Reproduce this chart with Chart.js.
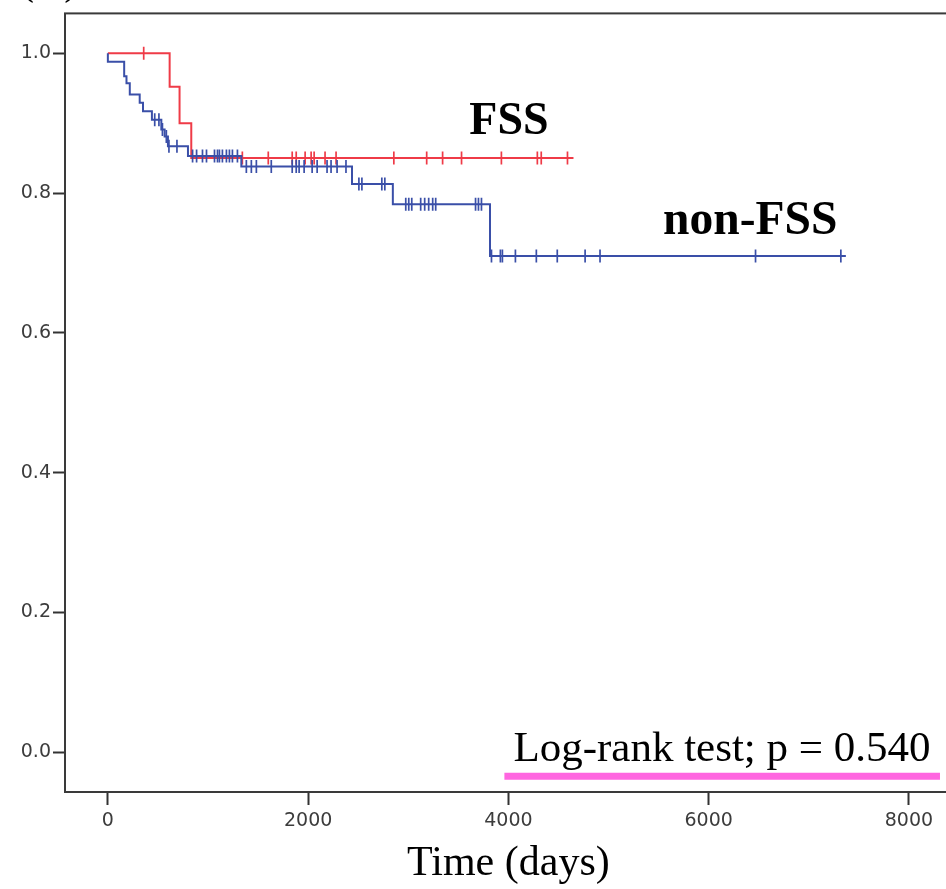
<!DOCTYPE html>
<html>
<head>
<meta charset="utf-8">
<script src="https://cdn.jsdelivr.net/npm/chart.js@4/dist/chart.umd.min.js"></script>
<style>
  html, body { margin: 0; padding: 0; background: #ffffff; overflow: hidden; }
  #wrap { width: 946px; height: 889px; overflow: hidden; position: relative; }
  canvas { display: block; }
</style>
</head>
<body>
<div id="wrap"><canvas id="c" width="960" height="889"></canvas></div>
<script>
// ---- data ----
const xTickValues = [0, 2000, 4000, 6000, 8000];
const yTickValues = [0.0, 0.2, 0.4, 0.6, 0.8, 1.0];

// FSS (red): Kaplan-Meier step points (time in days, cumulative survival)
const fssStepTimes = [0, 617, 716, 833, 4650];
const fssStepSurv  = [1.0, 0.952, 0.900, 0.850, 0.850];
const fssCensorTimes = [358, 1343, 1602, 1841, 1881, 1970, 2030, 2060, 2169, 2279,
                        2856, 3184, 3343, 3532, 3930, 4289, 4328, 4590];

// non-FSS (blue)
const nonFssStepTimes = [0, 0, 163, 186, 219, 318, 351, 440, 534, 567, 600, 800,
                         1333, 2438, 2846, 3816, 7370];
const nonFssStepSurv  = [1.0, 0.988, 0.967, 0.957, 0.941, 0.929, 0.917, 0.905, 0.891,
                         0.881, 0.867, 0.853, 0.838, 0.813, 0.784, 0.710, 0.710];
const nonFssCensorTimes = [468, 510, 545, 584, 610, 690, 846, 886, 945, 985, 1065, 1095,
                           1114, 1144, 1184, 1214, 1244, 1294, 1383, 1433, 1483, 1632,
                           1841, 1881, 1910, 1960, 2040, 2090, 2189, 2229, 2289, 2378,
                           2507, 2537, 2736, 2766, 2975, 3005, 3035, 3124, 3164, 3204,
                           3244, 3274, 3672, 3701, 3731, 3831, 3920, 3940, 4070, 4279,
                           4488, 4766, 4915, 6468, 7320];

const groupLabels = ['FSS', 'non-FSS'];
const testLabel = 'Log-rank test; p = 0.540';
const xTitle = 'Time (days)';
const panelLabel = '(A)';

// ---- helpers ----
function stepPoints(times, surv) {
  return times.map((t, i) => ({ x: t, y: surv[i] }));
}
function survAt(times, surv, t) {
  let s = surv[0];
  for (let i = 0; i < times.length; i++) { if (times[i] <= t) s = surv[i]; }
  return s;
}
function censorPoints(times, surv, ctimes) {
  return ctimes.map(t => ({ x: t, y: survAt(times, surv, t) }));
}

const RED = '#ef3b47';
const BLUE = '#3a4fa8';

const framePlugin = {
  id: 'frame',
  afterDraw(chart) {
    const { ctx, chartArea: a, scales } = chart;
    ctx.save();
    // frame
    ctx.strokeStyle = '#3a3a3a';
    ctx.lineWidth = 2;
    ctx.strokeRect(a.left, a.top, a.right - a.left, a.bottom - a.top);
    const xs = scales.x, ys = scales.y;
    // group labels
    ctx.fillStyle = '#000';
    ctx.textBaseline = 'alphabetic';
    ctx.textAlign = 'left';
    ctx.font = 'bold 46px "Liberation Serif", "Times New Roman", serif';
    ctx.fillText(groupLabels[0], xs.getPixelForValue(3610), ys.getPixelForValue(0.885));
    ctx.font = 'bold 47.5px "Liberation Serif", "Times New Roman", serif';
    ctx.fillText(groupLabels[1], xs.getPixelForValue(5545), ys.getPixelForValue(0.741));
    // log-rank text
    ctx.font = '43px "Liberation Serif", "Times New Roman", serif';
    ctx.fillText(testLabel, xs.getPixelForValue(4050), ys.getPixelForValue(-0.0125));
    // pink underline
    ctx.strokeStyle = '#ff66e0';
    ctx.lineWidth = 7;
    ctx.beginPath();
    ctx.moveTo(xs.getPixelForValue(3960), ys.getPixelForValue(-0.0345));
    ctx.lineTo(xs.getPixelForValue(8310), ys.getPixelForValue(-0.0345));
    ctx.stroke();
    // panel label (cut off at top)
    ctx.fillStyle = '#000';
    ctx.font = '42px "Liberation Serif", "Times New Roman", serif';
    ctx.fillText(panelLabel, 20, -6);
    ctx.restore();
  }
};

new Chart(document.getElementById('c'), {
  type: 'line',
  data: {
    datasets: [
      {
        label: 'non-FSS censored',
        data: censorPoints(nonFssStepTimes, nonFssStepSurv, nonFssCensorTimes),
        showLine: false,
        pointStyle: 'line',
        rotation: 90,
        pointRadius: 6.5,
        pointBorderWidth: 1.7,
        borderColor: BLUE,
        pointBorderColor: BLUE,
        order: 0
      },
      {
        label: 'non-FSS',
        data: stepPoints(nonFssStepTimes, nonFssStepSurv),
        stepped: 'before',
        borderColor: BLUE,
        borderWidth: 2,
        pointRadius: 0,
        fill: false,
        order: 1
      },
      {
        label: 'FSS censored',
        data: censorPoints(fssStepTimes, fssStepSurv, fssCensorTimes),
        showLine: false,
        pointStyle: 'line',
        rotation: 90,
        pointRadius: 6.5,
        pointBorderWidth: 1.7,
        borderColor: RED,
        pointBorderColor: RED,
        order: 2
      },
      {
        label: 'FSS',
        data: stepPoints(fssStepTimes, fssStepSurv),
        stepped: 'before',
        borderColor: RED,
        borderWidth: 2,
        pointRadius: 0,
        fill: false,
        order: 3
      }
    ]
  },
  options: {
    responsive: false,
    animation: false,
    devicePixelRatio: 1,
    layout: { padding: { top: 10, right: 5, left: 0, bottom: 0 } },
    plugins: { legend: { display: false }, tooltip: { enabled: false }, title: { display: false } },
    scales: {
      x: {
        type: 'linear',
        min: -428,
        max: 8428,
        afterBuildTicks: (axis) => { axis.ticks = xTickValues.map(v => ({ value: v })); },
        afterFit: (scale) => { scale.height = 97; },
        border: { display: false },
        grid: { drawOnChartArea: false, drawTicks: true, tickLength: 13, tickColor: '#333', tickWidth: 2 },
        ticks: {
          padding: 5,
          color: '#3c3c3c',
          maxRotation: 0,
          font: { family: '"DejaVu Sans", sans-serif', size: 19 },
          callback: (v) => String(v)
        },
        title: {
          display: true,
          text: xTitle,
          color: '#000',
          padding: { top: 0, bottom: 0 },
          font: { family: '"Liberation Serif", "Times New Roman", serif', size: 42, lineHeight: 1.2 }
        }
      },
      y: {
        type: 'linear',
        min: -0.057,
        max: 1.057,
        afterBuildTicks: (axis) => { axis.ticks = yTickValues.map(v => ({ value: v })); },
        afterFit: (scale) => { scale.width = 65; },
        border: { display: false },
        grid: { drawOnChartArea: false, drawTicks: true, tickLength: 12, tickColor: '#333', tickWidth: 2 },
        ticks: {
          padding: 2,
          color: '#3c3c3c',
          font: { family: '"DejaVu Sans", sans-serif', size: 19 },
          callback: (v) => Number(v).toFixed(1)
        }
      }
    }
  },
  plugins: [framePlugin]
});
</script>
</body>
</html>
